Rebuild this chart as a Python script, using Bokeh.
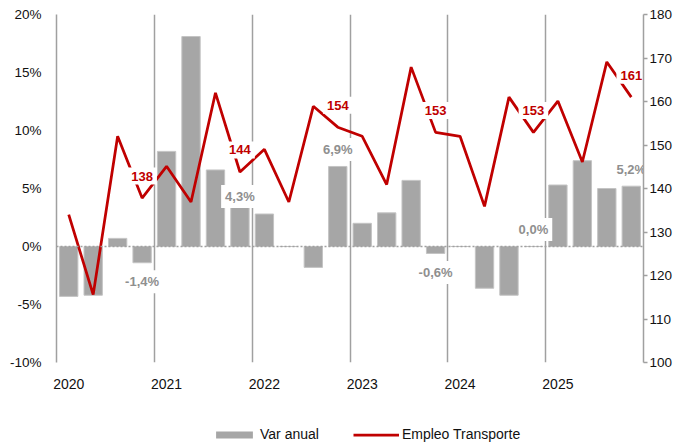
import math
from bokeh.plotting import figure
from bokeh.layouts import column
from bokeh.models import (ColumnDataSource, Range1d, LinearAxis, FixedTicker, Span,
                          Legend, LegendItem)
from bokeh.core.properties import value
from bokeh.embed import file_html
from bokeh.resources import INLINE

# ---------------- data ----------------
years = ["2020", "2021", "2022", "2023", "2024", "2025"]
quarters = [f"{y}T{q}" for y in years for q in (1, 2, 3, 4)]
var_anual = [-4.3, -4.2, 0.7, -1.4,
             8.2, 18.1, 6.6, 4.3,
             2.8, 0.0, -1.8, 6.9,
             2.0, 2.9, 5.7, -0.6,
             0.0, -3.6, -4.2, 0.0,
             5.3, 7.4, 5.0, 5.2]
empleo = [134.0, 115.6, 152.0, 137.8,
          145.1, 136.9, 162.0, 143.8,
          149.0, 136.9, 158.9, 154.1,
          152.0, 140.9, 167.9, 152.9,
          152.0, 135.9, 161.0, 152.9,
          160.1, 146.1, 169.1, 161.0]
left_ticks = [-10, -5, 0, 5, 10, 15, 20]
right_ticks = [100, 110, 120, 130, 140, 150, 160, 170, 180]

# ---------------- style ----------------
FONT = "Liberation Sans"
BAR = "#a6a6a6"
RED = "#c00000"
GRID = "#a0a0a0"
LBL_GRAY = "#8f8f8f"
bar_label_shift = {7: 0}  # manual placement of one label

n = len(quarters)
xs = list(range(n))
src = ColumnDataSource(dict(x=xs, q=quarters, v=var_anual, e=empleo))

lab_idx = [i for i in xs if i % 4 == 3]
bar_off = []
for i in lab_idx:
    if i in bar_label_shift:
        bar_off.append(-bar_label_shift[i])
    else:
        bar_off.append(-17 if var_anual[i] >= 0 else 19)
bar_lab = ColumnDataSource(dict(
    x=[xs[i] for i in lab_idx],
    y=[var_anual[i] for i in lab_idx],
    t=[f"{var_anual[i]:.1f}".replace(".", ",") + "%" for i in lab_idx],
    off=bar_off))
line_lab = ColumnDataSource(dict(
    x=[xs[i] for i in lab_idx],
    y=[empleo[i] for i in lab_idx],
    t=[f"{empleo[i]:.0f}" for i in lab_idx]))

p = figure(frame_width=587, frame_height=348, x_range=Range1d(-0.5, n - 0.5),
           y_range=Range1d(-10, 20), output_backend="svg", toolbar_location=None,
           min_border_left=56, min_border_right=0, min_border_top=14,
           min_border_bottom=0)
p.extra_y_ranges = {"emp": Range1d(100, 180)}
p.outline_line_color = None
p.background_fill_color = "white"

# grid: vertical year separators
p.ygrid.visible = False
p.xgrid.ticker = FixedTicker(ticks=[3.5, 7.5, 11.5, 15.5, 19.5])
p.xgrid.grid_line_color = GRID
p.xgrid.grid_line_width = 1.5

# left axis
ya = p.yaxis[0]
ya.ticker = FixedTicker(ticks=left_ticks)
ya.major_label_overrides = {t: f"{t}%" for t in left_ticks}
ya.axis_line_color = GRID
ya.axis_line_width = 1.5
ya.major_tick_line_color = None
ya.minor_tick_line_color = None
ya.major_label_standoff = 9
ya.axis_label_standoff = 0
ya.major_label_text_font = FONT
ya.major_label_text_font_size = "13.5px"
ya.major_label_text_color = "#111111"

# x axis
xa = p.xaxis[0]
xa.ticker = FixedTicker(ticks=[i for i in xs if i % 4 == 0])
xa.major_label_overrides = {i: years[i // 4] for i in xs if i % 4 == 0}
xa.axis_line_color = None
xa.major_tick_line_color = None
xa.minor_tick_line_color = None
xa.major_label_standoff = 10
xa.axis_label_standoff = 0
xa.major_label_text_font = FONT
xa.major_label_text_font_size = "14px"
xa.major_label_text_color = "#111111"

# right axis
ra = LinearAxis(y_range_name="emp", ticker=FixedTicker(ticks=right_ticks))
ra.axis_line_color = GRID
ra.axis_line_width = 1.5
ra.major_tick_line_color = GRID
ra.major_tick_line_width = 1.5
ra.major_tick_out = 4
ra.major_tick_in = 0
ra.minor_tick_line_color = None
ra.major_label_standoff = 2
ra.axis_label_standoff = 0
ra.major_label_text_font = FONT
ra.major_label_text_font_size = "13.5px"
ra.major_label_text_color = "#111111"
p.add_layout(ra, "right")

# bars
bars = p.vbar(x="x", top="v", bottom=0, width=0.75, source=src,
              fill_color=BAR, line_color="#c4c4c4", line_width=1)

# zero line
p.add_layout(Span(location=0, dimension="width", line_color=GRID,
                  line_width=1.5, line_dash="2 2"))

# line
ln = p.line(x="x", y="e", source=src, y_range_name="emp",
            line_color=RED, line_width=2.75)

# labels
p.text(x="x", y="y", text="t", source=bar_lab, y_offset="off",
       text_align="center", text_baseline="middle",
       text_font=value(FONT), text_font_size="13px", text_font_style="bold",
       text_color=LBL_GRAY, background_fill_color="white", padding=4)
p.text(x="x", y="y", text="t", source=line_lab, y_range_name="emp",
       y_offset=-22, text_align="center", text_baseline="middle",
       text_font=value(FONT), text_font_size="13px", text_font_style="bold",
       text_color=RED, background_fill_color="white", padding=4)

# ---------------- legend strip ----------------
lg = figure(width=681, height=52, x_range=Range1d(0, 1), y_range=Range1d(0, 1),
            output_backend="svg", toolbar_location=None,
            x_axis_type=None, y_axis_type=None,
            min_border_left=0, min_border_right=0, min_border_top=0,
            min_border_bottom=0)
lg.outline_line_color = None
lg.grid.visible = False
key_bar = lg.vbar(x=[math.nan], top=[math.nan], width=0.1,
                  fill_color=BAR, line_color=None)
key_line = lg.line(x=[math.nan, math.nan], y=[math.nan, math.nan],
                   line_color=RED, line_width=2.75)
legend = Legend(items=[LegendItem(label="Var anual", renderers=[key_bar]),
                       LegendItem(label="Empleo Transporte", renderers=[key_line])],
                orientation="horizontal", location=(155, 1),
                glyph_width=46, glyph_height=9, label_height=14,
                label_standoff=3, spacing=34, padding=0, margin=0,
                border_line_color=None, background_fill_alpha=0,
                label_text_font=FONT, label_text_font_size="14px",
                label_text_color="#111111")
lg.add_layout(legend, "center")

open("out.html", "w").write(file_html(column(p, lg), INLINE))
